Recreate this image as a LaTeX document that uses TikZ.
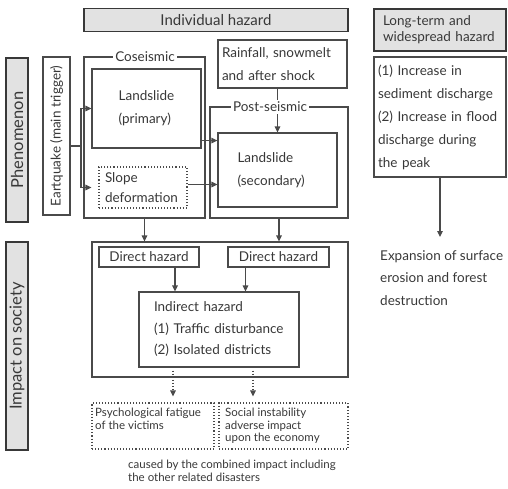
\documentclass[tikz,border=0pt]{standalone}
\usepackage{fontspec}
\setmainfont{Lato}
\usetikzlibrary{arrows.meta}
\definecolor{ink}{HTML}{383838}
\definecolor{edge}{HTML}{4A4A4A}
\definecolor{hdrfill}{HTML}{E2E2E2}
\begin{document}
\begin{tikzpicture}[x=1pt,y=-1pt,
  every node/.style={text=ink, font=\fontsize{13.5}{23}\selectfont},
  box/.style={draw=edge, line width=1.1pt, fill=white, inner sep=0pt},
  hdr/.style={draw=ink, line width=1.7pt, fill=hdrfill, inner sep=0pt},
  side/.style={hdr, rotate=90, font=\fontsize{16.5}{20}\selectfont},
  dotbox/.style={draw=edge, line width=1.1pt, dotted, inner sep=0pt},
  lbl/.style={fill=white, inner sep=2pt},
  arr/.style={draw=edge, line width=1.1pt, -{Triangle[length=6pt,width=5.5pt]}},
  dotarr/.style={arr, dotted},
  small/.style={font=\fontsize{11.5}{12.5}\selectfont},
]
\useasboundingbox (0,0) rectangle (508,488);

% headers
\node[hdr, minimum width=264pt, minimum height=23pt, font=\fontsize{15}{18}\selectfont] (hind) at (216,20) {Individual hazard};
\node[hdr, minimum width=132pt, minimum height=42pt, text width=114pt, align=left,
      font=\fontsize{13.5}{16}\selectfont] (hlong) at (440,30) {Long-term and\\widespread hazard};

% side labels
\node[side, minimum width=164pt, minimum height=22pt] (phen) at (17,140) {Phenomenon};
\node[side, minimum width=208pt, minimum height=22pt] (soc) at (17,346) {Impact on society};

% trigger
\node[box, minimum width=158pt, minimum height=27pt, rotate=90] (quake) at (56.5,136) {Eartquake (main trigger)};

% coseismic group
\node[box, minimum width=121pt, minimum height=161pt] (cos) at (144.5,137.5) {};
\node[lbl] (coslbl) at (145,57) {Coseismic};
\node[box, minimum width=109pt, minimum height=79pt, align=left] (prim) at (146.5,108.5) {Landslide\\(primary)};
\node[dotbox, minimum width=88pt, minimum height=41pt, text width=76pt, align=left,
      font=\fontsize{13.5}{20}\selectfont] (slope) at (143,187.5) {Slope\\deformation};

% post-seismic group
\node[box, minimum width=129pt, minimum height=48pt, text width=121pt, align=left] (rain) at (282.5,64) {Rainfall, snowmelt\\and after shock};
\node[box, minimum width=138pt, minimum height=111pt] (post) at (279,162.5) {};
\node[box, minimum width=119pt, minimum height=74pt, text width=80pt, align=left] (sec) at (277.5,170) {Landslide\\(secondary)};

% long-term
\node[box, minimum width=132pt, minimum height=120pt, text width=124pt, align=left] (long) at (440,117)
  {(1) Increase in\\sediment discharge\\(2) Increase in flood\\discharge during\\the peak};
\node[anchor=north west, align=left, inner sep=0pt, font=\fontsize{13.5}{22.5}\selectfont] (expn) at (380,250)
  {Expansion of surface\\erosion and forest\\destruction};

% impact on society
\node[box, minimum width=256pt, minimum height=135pt] (imp) at (220,309.5) {};
\node[box, minimum width=100pt, minimum height=20pt] (dh1) at (149,257) {Direct hazard};
\node[box, minimum width=101pt, minimum height=20pt] (dh2) at (278.5,257) {Direct hazard};
\node[box, minimum width=160pt, minimum height=75pt, text width=130pt, align=left,
      font=\fontsize{13.5}{21.5}\selectfont] (ind) at (219,329.5)
  {Indirect hazard\\(1) Traffic disturbance\\(2) Isolated districts};

% consequences
\node[dotbox, small, minimum width=122pt, minimum height=46pt] (psy) at (153,426) {};
\node[small, anchor=north west, align=left, inner sep=0pt] (psytxt) at (95,408) {Psychological fatigue\\of the victims};
\node[dotbox, small, minimum width=129pt, minimum height=46pt] (soi) at (283.5,426) {};
\node[small, anchor=north west, align=left, inner sep=0pt] (soitxt) at (225,408) {Social instability\\adverse impact\\upon the economy};
\node[small, anchor=north west, align=left, inner sep=0pt] (note) at (128,460)
  {caused by the combined impact including\\the other related disasters};

% connectors: trigger
\coordinate (qj) at (81,146);
\draw[draw=edge, line width=1.1pt] (quake.south |- qj) -- (qj);
\draw[arr] (qj) |- (prim.west);
\draw[arr, shorten >=7pt] (qj) |- (slope.west);

% coseismic to secondary
\draw[arr] ([yshift=8pt]prim.south east) coordinate (pa) -- (pa -| sec.west);
\draw[arr] ([yshift=3pt]slope.east) coordinate (pb) -- (pb -| sec.west);

% rainfall to secondary, label on top
\draw[arr] (sec.north |- rain.south) -- (sec.north);
\node[lbl] (postlbl) at (270,107) {Post-seismic};

% phenomenon to impact
\draw[arr] (cos.south) -- (cos.south |- imp.north);
\draw[arr] (post.south) -- (post.south |- imp.north);
\draw[arr] (long.south) -- (long.south |- 0,237);

% direct to indirect
\draw[arr] ([xshift=26pt]dh1.south) coordinate (d1) -- (d1 |- ind.north);
\draw[arr] ([xshift=-33pt]dh2.south) coordinate (d2) -- (d2 |- ind.north);

% indirect to consequences
\draw[dotarr, shorten <=3pt, shorten >=6pt] ([xshift=-46pt]ind.south) coordinate (i1) -- (i1 |- psy.north);
\draw[dotarr, shorten <=3pt, shorten >=6pt] ([xshift=34pt]ind.south) coordinate (i2) -- (i2 |- soi.north);
\end{tikzpicture}
\end{document}
